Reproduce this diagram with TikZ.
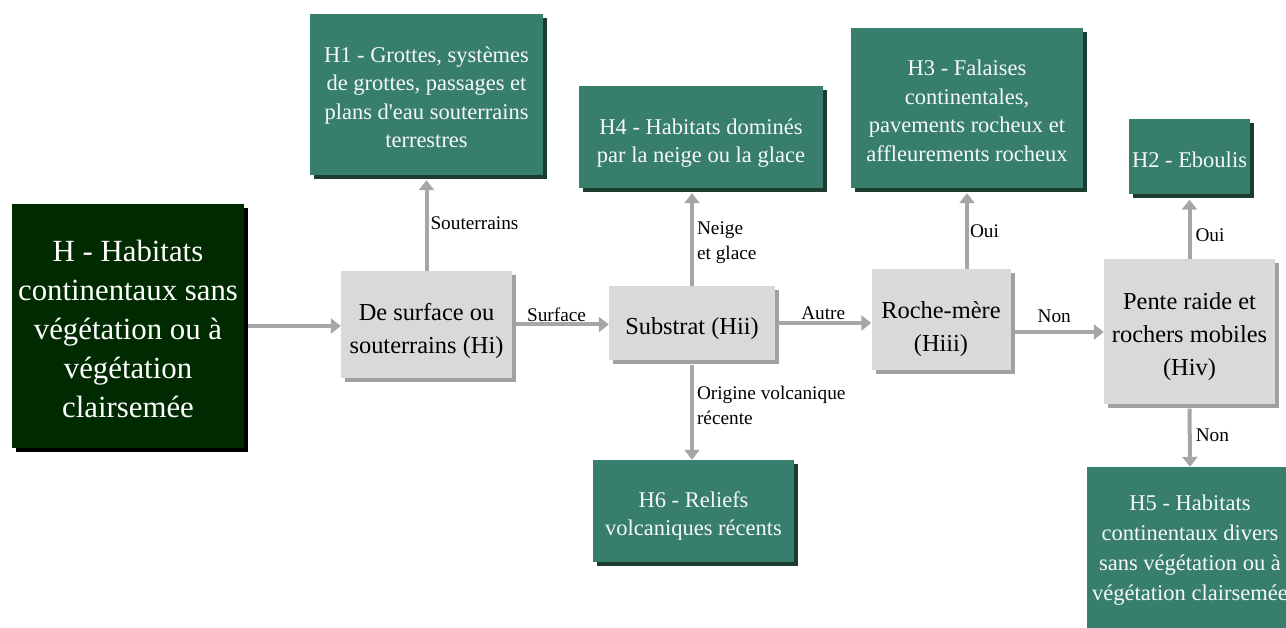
\documentclass[tikz,border=0pt]{standalone}
\usepackage{fontspec}
\setmainfont{Liberation Serif}
\usetikzlibrary{arrows.meta,shadows}
\definecolor{rootgreen}{RGB}{0,42,0}
\definecolor{leafgreen}{RGB}{56,126,108}
\definecolor{leafshadow}{RGB}{28,60,48}
\definecolor{qgray}{RGB}{217,217,217}
\definecolor{qshadow}{RGB}{160,160,160}
\definecolor{arrowgray}{RGB}{166,166,166}
\tikzset{
  rootbox/.style={rectangle, fill=rootgreen, inner sep=0pt,
    drop shadow={shadow xshift=4pt, shadow yshift=-4pt, opacity=1, fill=black}},
  leafbox/.style={rectangle, fill=leafgreen, inner sep=0pt,
    drop shadow={shadow xshift=4pt, shadow yshift=-4pt, opacity=1, fill=leafshadow}},
  qbox/.style={rectangle, fill=qgray, inner sep=0pt,
    drop shadow={shadow xshift=4pt, shadow yshift=-4pt, opacity=1, fill=qshadow}},
  roottext/.style={text=white, align=center, inner sep=0pt, font=\fontsize{30.8}{39}\selectfont},
  leaftext/.style={text=white!95!leafgreen, align=center, inner sep=0pt, font=\fontsize{22.5}{28.5}\selectfont},
  qtext/.style={text=black, align=center, inner sep=0pt, font=\fontsize{24.4}{33}\selectfont},
  link/.style={draw=arrowgray, line width=4pt, -{Triangle[width=15pt,length=10pt]}},
  lbl/.style={font=\fontsize{19.3}{25}\selectfont, text=black, inner sep=1pt, align=left},
}
\begin{document}
\begin{tikzpicture}[x=1pt,y=-1pt]
  \useasboundingbox (0,0) rectangle (1286,628);
  \clip (0,0) rectangle (1286,628);

  % root and decision boxes
  \node[rootbox, minimum width=232, minimum height=244,
    label={[roottext, yshift=-2.5pt]center:{H - Habitats\\continentaux sans\\végétation ou à\\végétation\\clairsemée}}]
    (H) at (128,326) {};
  \node[qbox, minimum width=171, minimum height=107,
    label={[qtext, yshift=-7pt]center:{De surface ou\\souterrains (Hi)}}]
    (Hi) at (426.5,324.5) {};
  \node[qbox, minimum width=166, minimum height=74,
    label={[qtext, yshift=-6pt]center:{Substrat (Hii)}}]
    (Hii) at (692,323) {};
  \node[qbox, minimum width=139, minimum height=101,
    label={[qtext, yshift=-10pt]center:{Roche-mère\\(Hiii)}}]
    (Hiii) at (941,319.5) {};
  \node[qbox, minimum width=171, minimum height=145,
    label={[qtext, yshift=-5pt]center:{Pente raide et\\rochers mobiles\\(Hiv)}}]
    (Hiv) at (1189.5,332) {};

  % habitat classes
  \node[leafbox, minimum width=233, minimum height=161,
    label={[leaftext, yshift=-3pt]center:{H1 - Grottes, systèmes\\de grottes, passages et\\plans d\textquotesingle eau souterrains\\terrestres}}]
    (H1) at (426.5,94.5) {};
  \node[leafbox, minimum width=244, minimum height=102,
    label={[leaftext, yshift=-6pt]center:{H4 - Habitats dominés\\par la neige ou la glace}}]
    (H4) at (701,137) {};
  \node[leafbox, minimum width=201, minimum height=102,
    label={[leaftext, yshift=-5pt]center:{H6 - Reliefs\\volcaniques récents}}]
    (H6) at (693.5,511) {};
  \node[leafbox, minimum width=232, minimum height=160,
    label={[leaftext, yshift=-3pt]center:{H3 - Falaises\\continentales,\\pavements rocheux et\\affleurements rocheux}}]
    (H3) at (967,108) {};
  \node[leafbox, minimum width=121, minimum height=75,
    label={[leaftext, yshift=-3pt]center:{H2 - Eboulis}}]
    (H2) at (1189.5,157) {};
  \node[leafbox, minimum width=206, minimum height=166,
    label={[leaftext, font=\fontsize{22.5}{30}\selectfont]center:{H5 - Habitats\\continentaux divers\\sans végétation ou à\\végétation clairsemée}}]
    (H5) at (1190,550) {};

  % connectors
  \draw[link, shorten <=4pt] (H.east) -- (H.east -| Hi.west);
  \draw[link, shorten <=3pt] (Hi.east) -- (Hi.east -| Hii.west)
    node[midway, above, lbl, xshift=-4pt] {Surface};
  \draw[link, shorten >=5pt] (Hi.north) -- (Hi.north |- H1.south)
    node[midway, right, lbl, xshift=1pt] {Souterrains};
  \draw[link, shorten >=5pt] (Hii.north) -- (Hii.north |- H4.south)
    node[midway, right, lbl, xshift=2pt, yshift=-6pt] {Neige\\et glace};
  \draw[link, shorten <=5pt] (Hii.south) -- (Hii.south |- H6.north)
    node[pos=0.45, right, lbl, xshift=2pt] {Origine volcanique\\récente};
  \draw[link, shorten <=3pt] (Hii.east) -- (Hii.east -| Hiii.west)
    node[midway, above, lbl] {Autre};
  \draw[link, shorten <=4pt] (Hiv.west -| Hiii.east) -- (Hiv.west)
    node[midway, above, lbl, yshift=6pt, xshift=-3pt] {Non};
  \draw[link, shorten >=5pt] (H3.south |- Hiii.north) -- (H3.south)
    node[midway, right, lbl, yshift=-3pt] {Oui};
  \draw[link, shorten >=5pt] (Hiv.north) -- (H2.south)
    node[midway, right, lbl, xshift=3pt, yshift=-8pt] {Oui};
  \draw[link, shorten <=4pt] (Hiv.south) -- (H5.north)
    node[midway, right, lbl, xshift=3pt] {Non};
\end{tikzpicture}
\end{document}
